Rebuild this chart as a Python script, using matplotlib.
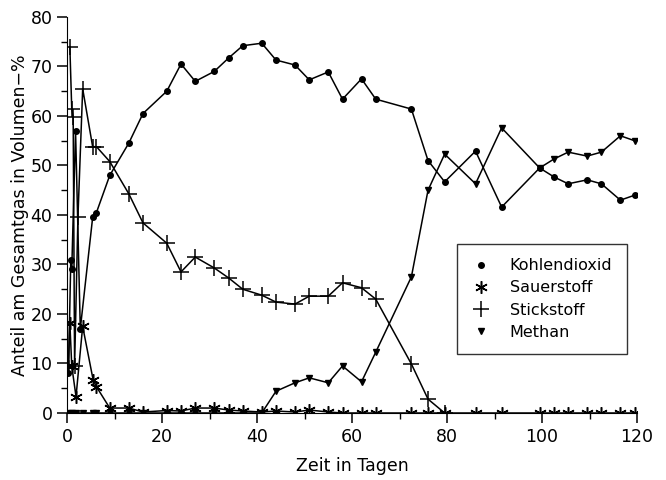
import numpy as np
import matplotlib.pyplot as plt
from matplotlib.ticker import MultipleLocator

# Kohlendioxid
co2_x = [0.3, 0.8, 1.0, 1.8, 2.8, 5.4, 6.2, 9, 13, 16, 21, 24, 27, 31, 34, 37, 41, 44,
         48, 51, 55, 58, 62, 65, 72.5, 76, 79.5, 86, 91.5, 99.5, 102.5, 105.5, 109.5,
         112.5, 116.5, 119.5]
co2_y = [8, 31, 29, 57, 17, 39.5, 40.5, 48, 54.5, 60.5, 65, 70.5, 67, 69, 71.7, 74.2,
         74.7, 71.3, 70.3, 67.3, 68.9, 63.4, 67.5, 63.4, 61.4, 51, 46.7, 52.9, 41.6,
         49.5, 47.7, 46.3, 47.1, 46.3, 43, 44]

# Sauerstoff
o2_x = [0.3, 0.6, 1.0, 1.9, 3.3, 5.5, 6.2, 9, 13, 16, 21, 24, 27, 31, 34, 37, 41, 44,
        48, 51, 55, 58, 62, 65, 72.5, 76, 79.5, 86, 91.5, 99.5, 102.5, 105.5, 109.5,
        112.5, 116.5, 119.5]
o2_y = [9.5, 18.2, 9.5, 3.3, 17.5, 6.7, 5.3, 1, 1, 0.2, 0.5, 0.4, 1, 1, 0.6, 0.4, 0.2,
        0.4, 0.2, 0.6, 0.2, 0, 0, 0, 0, 0, 0, 0, 0, 0, 0, 0, 0, 0, 0, 0]

# Stickstoff
n2_x = [0.6, 1.0, 1.3, 1.6, 2.3, 3.3, 5.4, 6.2, 9, 13, 16, 21, 24, 27, 31, 34, 37, 41,
        44, 48, 51, 55, 58, 62, 65, 72.5, 76, 79.5]
n2_y = [74, 61.4, 59.8, 9.5, 39.5, 65.5, 53.8, 53.8, 50.8, 44.3, 38.4, 34.3, 28.5,
        31.5, 29.3, 27.3, 25, 23.8, 22.4, 22, 23.6, 23.6, 26.3, 25.3, 23, 9.9, 2.8, 0]

# Methan
ch4_x = [0.6, 1.0, 1.9, 3.3, 5.4, 6.2, 9, 13, 16, 21, 24, 27, 31, 34, 37, 41, 44, 48,
         51, 55, 58, 62, 65, 72.5, 76, 79.5, 86, 91.5, 99.5, 102.5, 105.5, 109.5, 112.5,
         116.5, 119.5]
ch4_y = [0, 0, 0, 0, 0, 0, 0, 0, 0, 0, 0, 0, 0, 0, 0, 0, 4.4, 6.1, 7.1, 6.1, 9.5, 6.3,
         12.3, 27.5, 45, 52.3, 46.3, 57.6, 49.5, 51.3, 52.7, 51.9, 52.7, 56, 55]

fig = plt.figure(figsize=(6.66, 4.8), dpi=100)
ax = fig.add_axes([0.1006, 0.1396, 0.8559, 0.825])

ax.plot(co2_x, co2_y, color='black', lw=1.1, marker='o', ms=4, label='Kohlendioxid')
ax.plot(o2_x, o2_y, color='black', lw=1.1, marker=(6, 2, 0), ms=9, mew=1.1,
        label='Sauerstoff')
ax.plot(n2_x, n2_y, color='black', lw=1.1, marker='+', ms=11, mew=1.1, label='Stickstoff')
ax.plot(ch4_x, ch4_y, color='black', lw=1.1, marker='v', ms=4.5, label='Methan')

ax.set_xlim(0, 120)
ax.set_ylim(0, 80)
ax.spines['top'].set_visible(False)
ax.spines['right'].set_visible(False)
ax.xaxis.set_major_locator(MultipleLocator(20))
ax.xaxis.set_minor_locator(MultipleLocator(10))
ax.yaxis.set_major_locator(MultipleLocator(10))
ax.yaxis.set_minor_locator(MultipleLocator(5))
ax.tick_params(which='major', length=7, width=1.1, labelsize=12.5, direction='out')
ax.tick_params(which='minor', length=4, width=1, direction='out')
ax.set_xlabel('Zeit in Tagen', fontsize=12.5, labelpad=8)
ax.set_ylabel('Anteil am Gesamtgas in Volumen−%', fontsize=12.5, labelpad=1)

leg = ax.legend(loc='upper left', bbox_to_anchor=(0.684, 0.427), borderaxespad=0,
                fontsize=11.5, frameon=True, fancybox=False, edgecolor='black',
                handlelength=1.2, handletextpad=1.2, borderpad=0.9, labelspacing=0.45)
for h in leg.get_lines():
    h.set_linestyle('none')
leg.get_frame().set_linewidth(1.0)

fig.savefig('out.png', dpi=100)
